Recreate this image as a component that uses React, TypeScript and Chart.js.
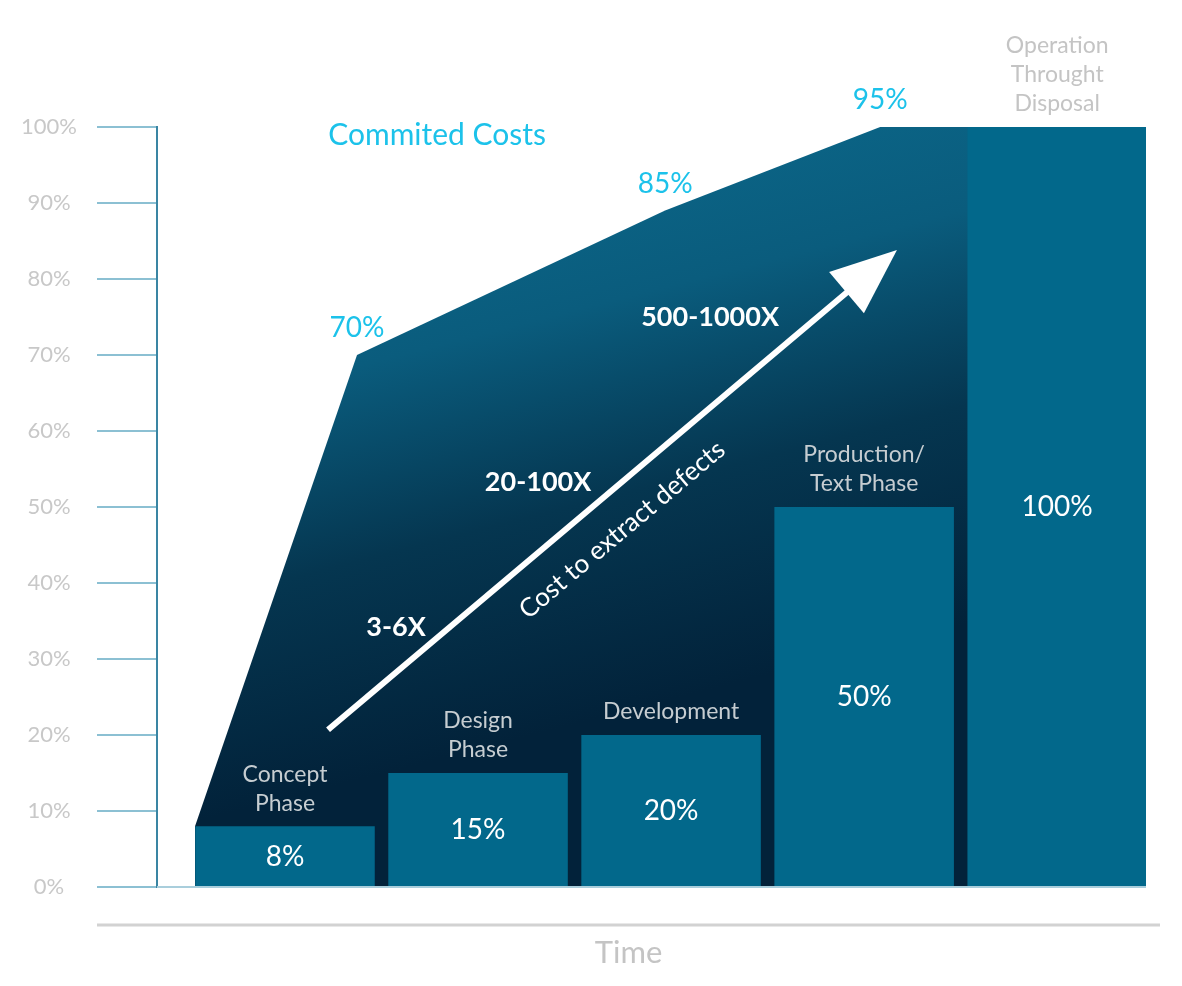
import React, { useEffect, useRef } from 'react';
import { Chart, registerables } from 'chart.js';

Chart.register(...registerables);

// ---------- data ----------
const categories: string[][] = [
  ['Concept', 'Phase'],
  ['Design', 'Phase'],
  ['Development'],
  ['Production/', 'Text Phase'],
  ['Operation', 'Throught', 'Disposal'],
];
const barX = [0.5, 1.5, 2.5, 3.5, 4.5];
const barValues = [8, 15, 20, 50, 100];

const committedX = [0.034, 0.873, 2.469, 3.583, 4.1];
const committedY = [8, 70, 89, 100, 100];
const committedLabels = ['', '70%', '85%', '95%', ''];

const yTicks = [0, 10, 20, 30, 40, 50, 60, 70, 80, 90, 100];

const arrowFrom = { x: 0.723, y: 20.7 };
const arrowTo = { x: 3.67, y: 83.8 };
const multiplierLabels = ['3-6X', '20-100X', '500-1000X'];
const multiplierX = [1.075, 1.811, 2.702];
const multiplierY = [34.2, 53.2, 74.9];

const FONT = 'Lato, "Noto Sans", sans-serif';
const CYAN = '#1cc2ea';

const annotate = {
  id: 'annotate',
  afterDatasetsDraw(chart: any) {
    const { ctx, chartArea } = chart;
    const xs = chart.scales.x;
    const ys = chart.scales.y;
    const barMeta = chart.getDatasetMeta(1);
    const lineMeta = chart.getDatasetMeta(0);
    ctx.save();

    // baseline at 0%
    ctx.strokeStyle = '#a9cedc';
    ctx.lineWidth = 2;
    ctx.beginPath();
    ctx.moveTo(chartArea.left, ys.getPixelForValue(0));
    ctx.lineTo(chartArea.right, ys.getPixelForValue(0));
    ctx.stroke();

    // bar values & category labels
    barMeta.data.forEach((bar: any, i: number) => {
      const base = ys.getPixelForValue(0);
      ctx.fillStyle = '#ffffff';
      ctx.font = `28px ${FONT}`;
      ctx.textAlign = 'center';
      ctx.textBaseline = 'middle';
      ctx.fillText(barValues[i] + '%', bar.x, (bar.y + base) / 2);

      const lines = categories[i];
      ctx.fillStyle = i === 4 ? '#c4c4c4' : '#c6cdd1';
      ctx.font = `23px ${FONT}`;
      const lh = 29;
      lines.forEach((t, j) => {
        const yy = bar.y - 23 - (lines.length - 1 - j) * lh;
        ctx.fillText(t, bar.x, yy);
      });
    });

    // committed cost labels
    ctx.fillStyle = CYAN;
    ctx.font = `28px ${FONT}`;
    ctx.textAlign = 'center';
    ctx.textBaseline = 'middle';
    lineMeta.data.forEach((p: any, i: number) => {
      if (committedLabels[i]) ctx.fillText(committedLabels[i], p.x, p.y - 27);
    });
    ctx.font = `30px ${FONT}`;
    ctx.fillText('Commited Costs', xs.getPixelForValue(1.288), ys.getPixelForValue(98.9));

    // arrow
    const x1 = xs.getPixelForValue(arrowFrom.x);
    const y1 = ys.getPixelForValue(arrowFrom.y);
    const x2 = xs.getPixelForValue(arrowTo.x);
    const y2 = ys.getPixelForValue(arrowTo.y);
    const len = Math.hypot(x2 - x1, y2 - y1);
    const ux = (x2 - x1) / len;
    const uy = (y2 - y1) / len;
    const headLen = 66;
    const headHalf = 27;
    const bx = x2 - ux * headLen;
    const by = y2 - uy * headLen;
    ctx.strokeStyle = '#ffffff';
    ctx.lineWidth = 6;
    ctx.beginPath();
    ctx.moveTo(x1, y1);
    ctx.lineTo(bx + ux * 10, by + uy * 10);
    ctx.stroke();
    ctx.fillStyle = '#ffffff';
    ctx.beginPath();
    ctx.moveTo(x2, y2);
    ctx.lineTo(bx - uy * headHalf, by + ux * headHalf);
    ctx.lineTo(bx + uy * headHalf, by - ux * headHalf);
    ctx.closePath();
    ctx.fill();

    // rotated caption
    const angle = Math.atan2(y2 - y1, x2 - x1);
    ctx.save();
    ctx.translate(xs.getPixelForValue(2.246), ys.getPixelForValue(47));
    ctx.rotate(angle);
    ctx.font = `26px ${FONT}`;
    ctx.textAlign = 'center';
    ctx.textBaseline = 'middle';
    ctx.fillText('Cost to extract defects', 0, 0);
    ctx.restore();

    // multipliers
    ctx.font = `bold 27px ${FONT}`;
    ctx.textAlign = 'center';
    ctx.textBaseline = 'middle';
    multiplierLabels.forEach((t, i) => {
      ctx.fillText(t, xs.getPixelForValue(multiplierX[i]), ys.getPixelForValue(multiplierY[i]));
    });

    // time axis
    const ty = ys.getPixelForValue(0) + 38;
    ctx.strokeStyle = '#d2d2d2';
    ctx.lineWidth = 3;
    ctx.beginPath();
    ctx.moveTo(chartArea.left - 60, ty);
    ctx.lineTo(chartArea.right + 14, ty);
    ctx.stroke();
    ctx.fillStyle = '#c4c4c4';
    ctx.font = `31px ${FONT}`;
    ctx.fillText('Time', (chartArea.left - 60 + chartArea.right + 14) / 2, ty + 28);

    ctx.restore();
  },
};

export default function App() {
  const ref = useRef<HTMLCanvasElement>(null);
  useEffect(() => {
    document.body.style.margin = '0';
    const canvas = ref.current!;
    const chart = new Chart(canvas, {
      type: 'bar',
      data: {
        datasets: [
          {
            type: 'line',
            label: 'Commited Costs',
            data: committedX.map((x, i) => ({ x, y: committedY[i] })),
            fill: 'origin',
            borderWidth: 0,
            pointRadius: 0,
            tension: 0,
            order: 2,
            backgroundColor: (c: any) => {
              const ca = c.chart.chartArea;
              if (!ca) return '#063a54';
              const w = ca.right - ca.left;
              const h = ca.bottom - ca.top;
              const g = c.chart.ctx.createLinearGradient(
                ca.left + w * 0.36, ca.top + h * 0.05,
                ca.left + w * 0.50, ca.top + h * 0.76
              );
              g.addColorStop(0, '#0b6688');
              g.addColorStop(0.28, '#0a5c7d');
              g.addColorStop(0.62, '#053650');
              g.addColorStop(1, '#02223a');
              return g;
            },
          } as any,
          {
            type: 'bar',
            label: 'Cost',
            data: barX.map((x, i) => ({ x, y: barValues[i] })),
            backgroundColor: '#02688b',
            borderWidth: 0,
            barPercentage: 0.93,
            categoryPercentage: 1,
            order: 1,
          } as any,
        ],
      },
      options: {
        animation: false,
        responsive: false,
        devicePixelRatio: 1,
        layout: { padding: { top: 127, bottom: 99, left: 0, right: 36 } },
        plugins: { legend: { display: false }, tooltip: { enabled: false } },
        scales: {
          x: {
            type: 'linear',
            min: -0.163,
            max: 4.96,
            offset: false,
            display: false,
            afterBuildTicks: (s: any) => { s.ticks = barX.map((v) => ({ value: v })); },
          },
          y: {
            type: 'linear',
            min: 0,
            max: 100,
            afterBuildTicks: (s: any) => { s.ticks = yTicks.map((v) => ({ value: v })); },
            afterFit: (s: any) => { s.width = 157; },
            grid: {
              drawOnChartArea: false,
              tickLength: 60,
              tickColor: '#8cc0d3',
              lineWidth: 2,
            },
            border: { color: '#3a85a3', width: 2 },
            ticks: {
              color: '#c8c8c8',
              padding: 20,
              crossAlign: 'center',
              font: { family: FONT, size: 22 },
              callback: (v: any) => v + '%',
            },
          },
        },
      } as any,
      plugins: [annotate],
    });
    return () => chart.destroy();
  }, []);
  return <canvas ref={ref} width={1182} height={986} style={{ display: 'block' }} />;
}
